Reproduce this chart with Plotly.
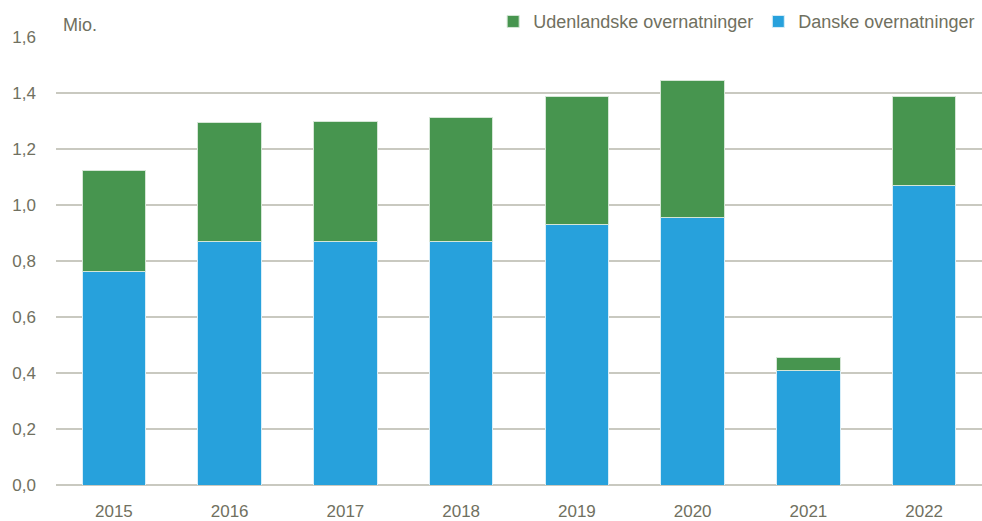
import plotly.graph_objects as go

years = ["2015", "2016", "2017", "2018", "2019", "2020", "2021", "2022"]
danske = [0.764, 0.871, 0.868, 0.871, 0.929, 0.957, 0.408, 1.068]
totals = [1.122, 1.293, 1.300, 1.311, 1.389, 1.443, 0.456, 1.386]
udenlandske = [round(t - d, 3) for t, d in zip(totals, danske)]
y_ticks = [0, 0.2, 0.4, 0.6, 0.8, 1.0, 1.2, 1.4, 1.6]
y_labels = ["0,0", "0,2", "0,4", "0,6", "0,8", "1,0", "1,2", "1,4", "1,6"]

txt = "#707060"
grid = "#c9c9c0"

fig = go.Figure()
fig.add_trace(go.Bar(x=years, y=danske, name="Danske overnatninger",
                     marker=dict(color="#27a1dc", line=dict(color="#d8eef8", width=1))))
fig.add_trace(go.Bar(x=years, y=udenlandske, name="Udenlandske overnatninger",
                     marker=dict(color="#47954f", line=dict(color="#d5e6d6", width=1))))

fig.update_layout(
    barmode="stack",
    bargap=0.45,
    width=982, height=521,
    margin=dict(l=56, r=0, t=37, b=36, autoexpand=False),
    plot_bgcolor="white", paper_bgcolor="white",
    font=dict(family="Liberation Sans, Arial, sans-serif", size=17, color=txt),
    legend=dict(orientation="h", traceorder="reversed", x=0.998, xanchor="right",
                y=1.034, yanchor="middle", font=dict(size=18, color=txt),
                itemwidth=30, bgcolor="rgba(0,0,0,0)"),
    xaxis=dict(showgrid=False, showline=False, ticks="", tickfont=dict(size=17),
               ticklabelstandoff=14),
    yaxis=dict(range=[0, 1.6], tickvals=y_ticks, ticktext=y_labels,
               showgrid=True, gridcolor=grid, gridwidth=1.5,
               zeroline=True, zerolinecolor=grid, zerolinewidth=1.5,
               ticks="", ticklabelstandoff=19, tickfont=dict(size=17)),
    annotations=[dict(text="Mio.", xref="paper", yref="paper", x=0.005, y=1.0,
                      xanchor="left", yanchor="bottom", showarrow=False,
                      font=dict(size=18, color=txt))],
)

fig.write_html("out.html", config={"displayModeBar": False},
               post_script="document.body.style.margin='0';document.body.style.overflow='hidden';")
